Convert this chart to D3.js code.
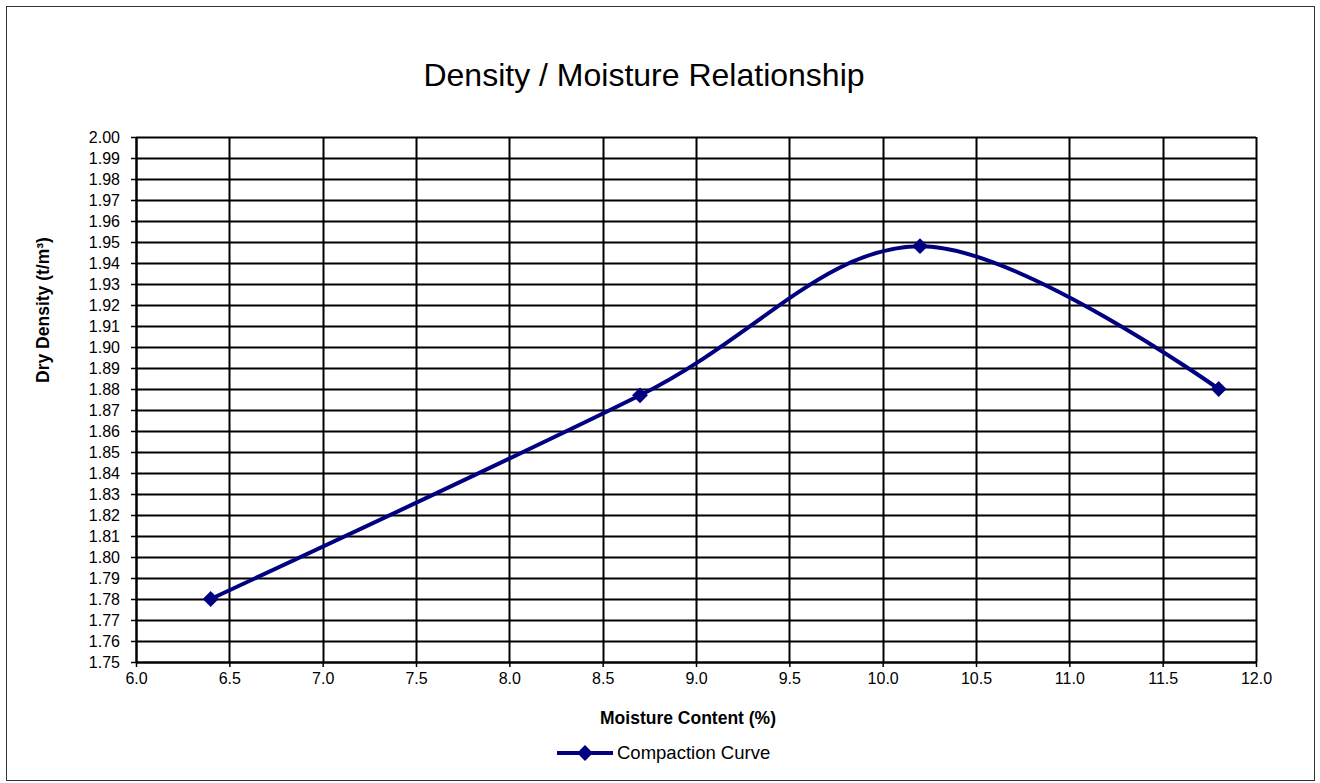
<!DOCTYPE html>
<html>
<head>
<meta charset="utf-8">
<script src="https://cdn.jsdelivr.net/npm/d3@7"></script>
<style>
  body { margin: 0; background: #fff; }
  svg text { font-family: "Liberation Sans", Arial, sans-serif; }
</style>
</head>
<body>
<div id="chart"></div>
<script>
const moisture = [6.4, 8.7, 10.2, 11.8]
const density = [1.780, 1.877, 1.948, 1.880]
const xTicks = d3.range(6, 12.01, 0.5)
const yTicks = d3.range(1.75, 2.005, 0.01)
const seriesName = "Compaction Curve"

const W = 1320, H = 783
const margin = {top: 137, right: 64, bottom: 121, left: 136},
    width = W - margin.left - margin.right,
    height = H - margin.top - margin.bottom

const root = d3.select("#chart").append("svg")
    .attr("width", W)
    .attr("height", H)

// outer frame
root.append("rect")
    .attr("x", 6.5).attr("y", 6.5)
    .attr("width", 1308).attr("height", 774)
    .attr("fill", "#fff").attr("stroke", "#333").attr("stroke-width", 1)

const svg = root.append("g")
    .attr("transform", "translate(" + margin.left + "," + margin.top + ")")

const x = d3.scaleLinear().domain([6, 12]).range([0, width])
const y = d3.scaleLinear().domain([1.75, 2.00]).range([height, 0])

// grid
svg.append("g").selectAll("line")
  .data(yTicks)
  .enter().append("line")
    .attr("x1", 0).attr("x2", width)
    .attr("y1", d => Math.round(y(d)) + 0.5).attr("y2", d => Math.round(y(d)) + 0.5)
    .attr("stroke", "#000").attr("stroke-width", 2)

svg.append("g").selectAll("line")
  .data(xTicks)
  .enter().append("line")
    .attr("y1", 0).attr("y2", height)
    .attr("x1", d => Math.round(x(d)) + 0.5).attr("x2", d => Math.round(x(d)) + 0.5)
    .attr("stroke", "#000").attr("stroke-width", 2)

// axes
const yAxis = svg.append("g")
    .call(d3.axisLeft(y).tickValues(yTicks).tickFormat(d3.format(".2f")).tickSize(5).tickSizeOuter(0))
yAxis.select(".domain").attr("stroke-width", 2)
yAxis.selectAll(".tick line").attr("stroke-width", 1.5)
yAxis.selectAll("text").attr("font-size", 16).attr("fill", "#000").attr("x", -16)

const xAxis = svg.append("g")
    .attr("transform", "translate(0," + height + ")")
    .call(d3.axisBottom(x).tickValues(xTicks).tickFormat(d3.format(".1f")).tickSize(5).tickSizeOuter(0))
xAxis.select(".domain").attr("stroke-width", 2)
xAxis.selectAll(".tick line").attr("stroke-width", 1.5)
xAxis.selectAll("text").attr("font-size", 16).attr("fill", "#000").attr("y", 11)

// series
const pts = moisture.map((m, i) => [m, density[i]])
const line = d3.line()
    .x(d => x(d[0])).y(d => y(d[1]))
    .curve(d3.curveCardinal.tension(0))

svg.append("path")
    .datum(pts)
    .attr("d", line)
    .attr("fill", "none")
    .attr("stroke", "#000080")
    .attr("stroke-width", 4)

const diamond = d3.symbol().type(d3.symbolDiamond2).size(160)
svg.selectAll(".pt")
  .data(pts)
  .enter().append("path")
    .attr("class", "pt")
    .attr("d", diamond)
    .attr("transform", d => "translate(" + x(d[0]) + "," + y(d[1]) + ")")
    .attr("fill", "#000080")

// titles
root.append("text")
    .attr("x", 644).attr("y", 86)
    .attr("text-anchor", "middle")
    .attr("font-size", 32)
    .text("Density / Moisture Relationship")

root.append("text")
    .attr("x", 688).attr("y", 724)
    .attr("text-anchor", "middle")
    .attr("font-size", 17.5).attr("font-weight", "bold")
    .text("Moisture Content (%)")

root.append("text")
    .attr("transform", "translate(49,310) rotate(-90)")
    .attr("text-anchor", "middle")
    .attr("font-size", 17.5).attr("font-weight", "bold")
    .text("Dry Density (t/m³)")

// legend
const lg = root.append("g").attr("transform", "translate(557,753)")
lg.append("line").attr("x1", 0).attr("x2", 56).attr("stroke", "#000080").attr("stroke-width", 4)
lg.append("path").attr("d", diamond).attr("transform", "translate(28,0)").attr("fill", "#000080")
lg.append("text").attr("x", 60).attr("y", 6).attr("font-size", 18.5).text(seriesName)
</script>
</body>
</html>
